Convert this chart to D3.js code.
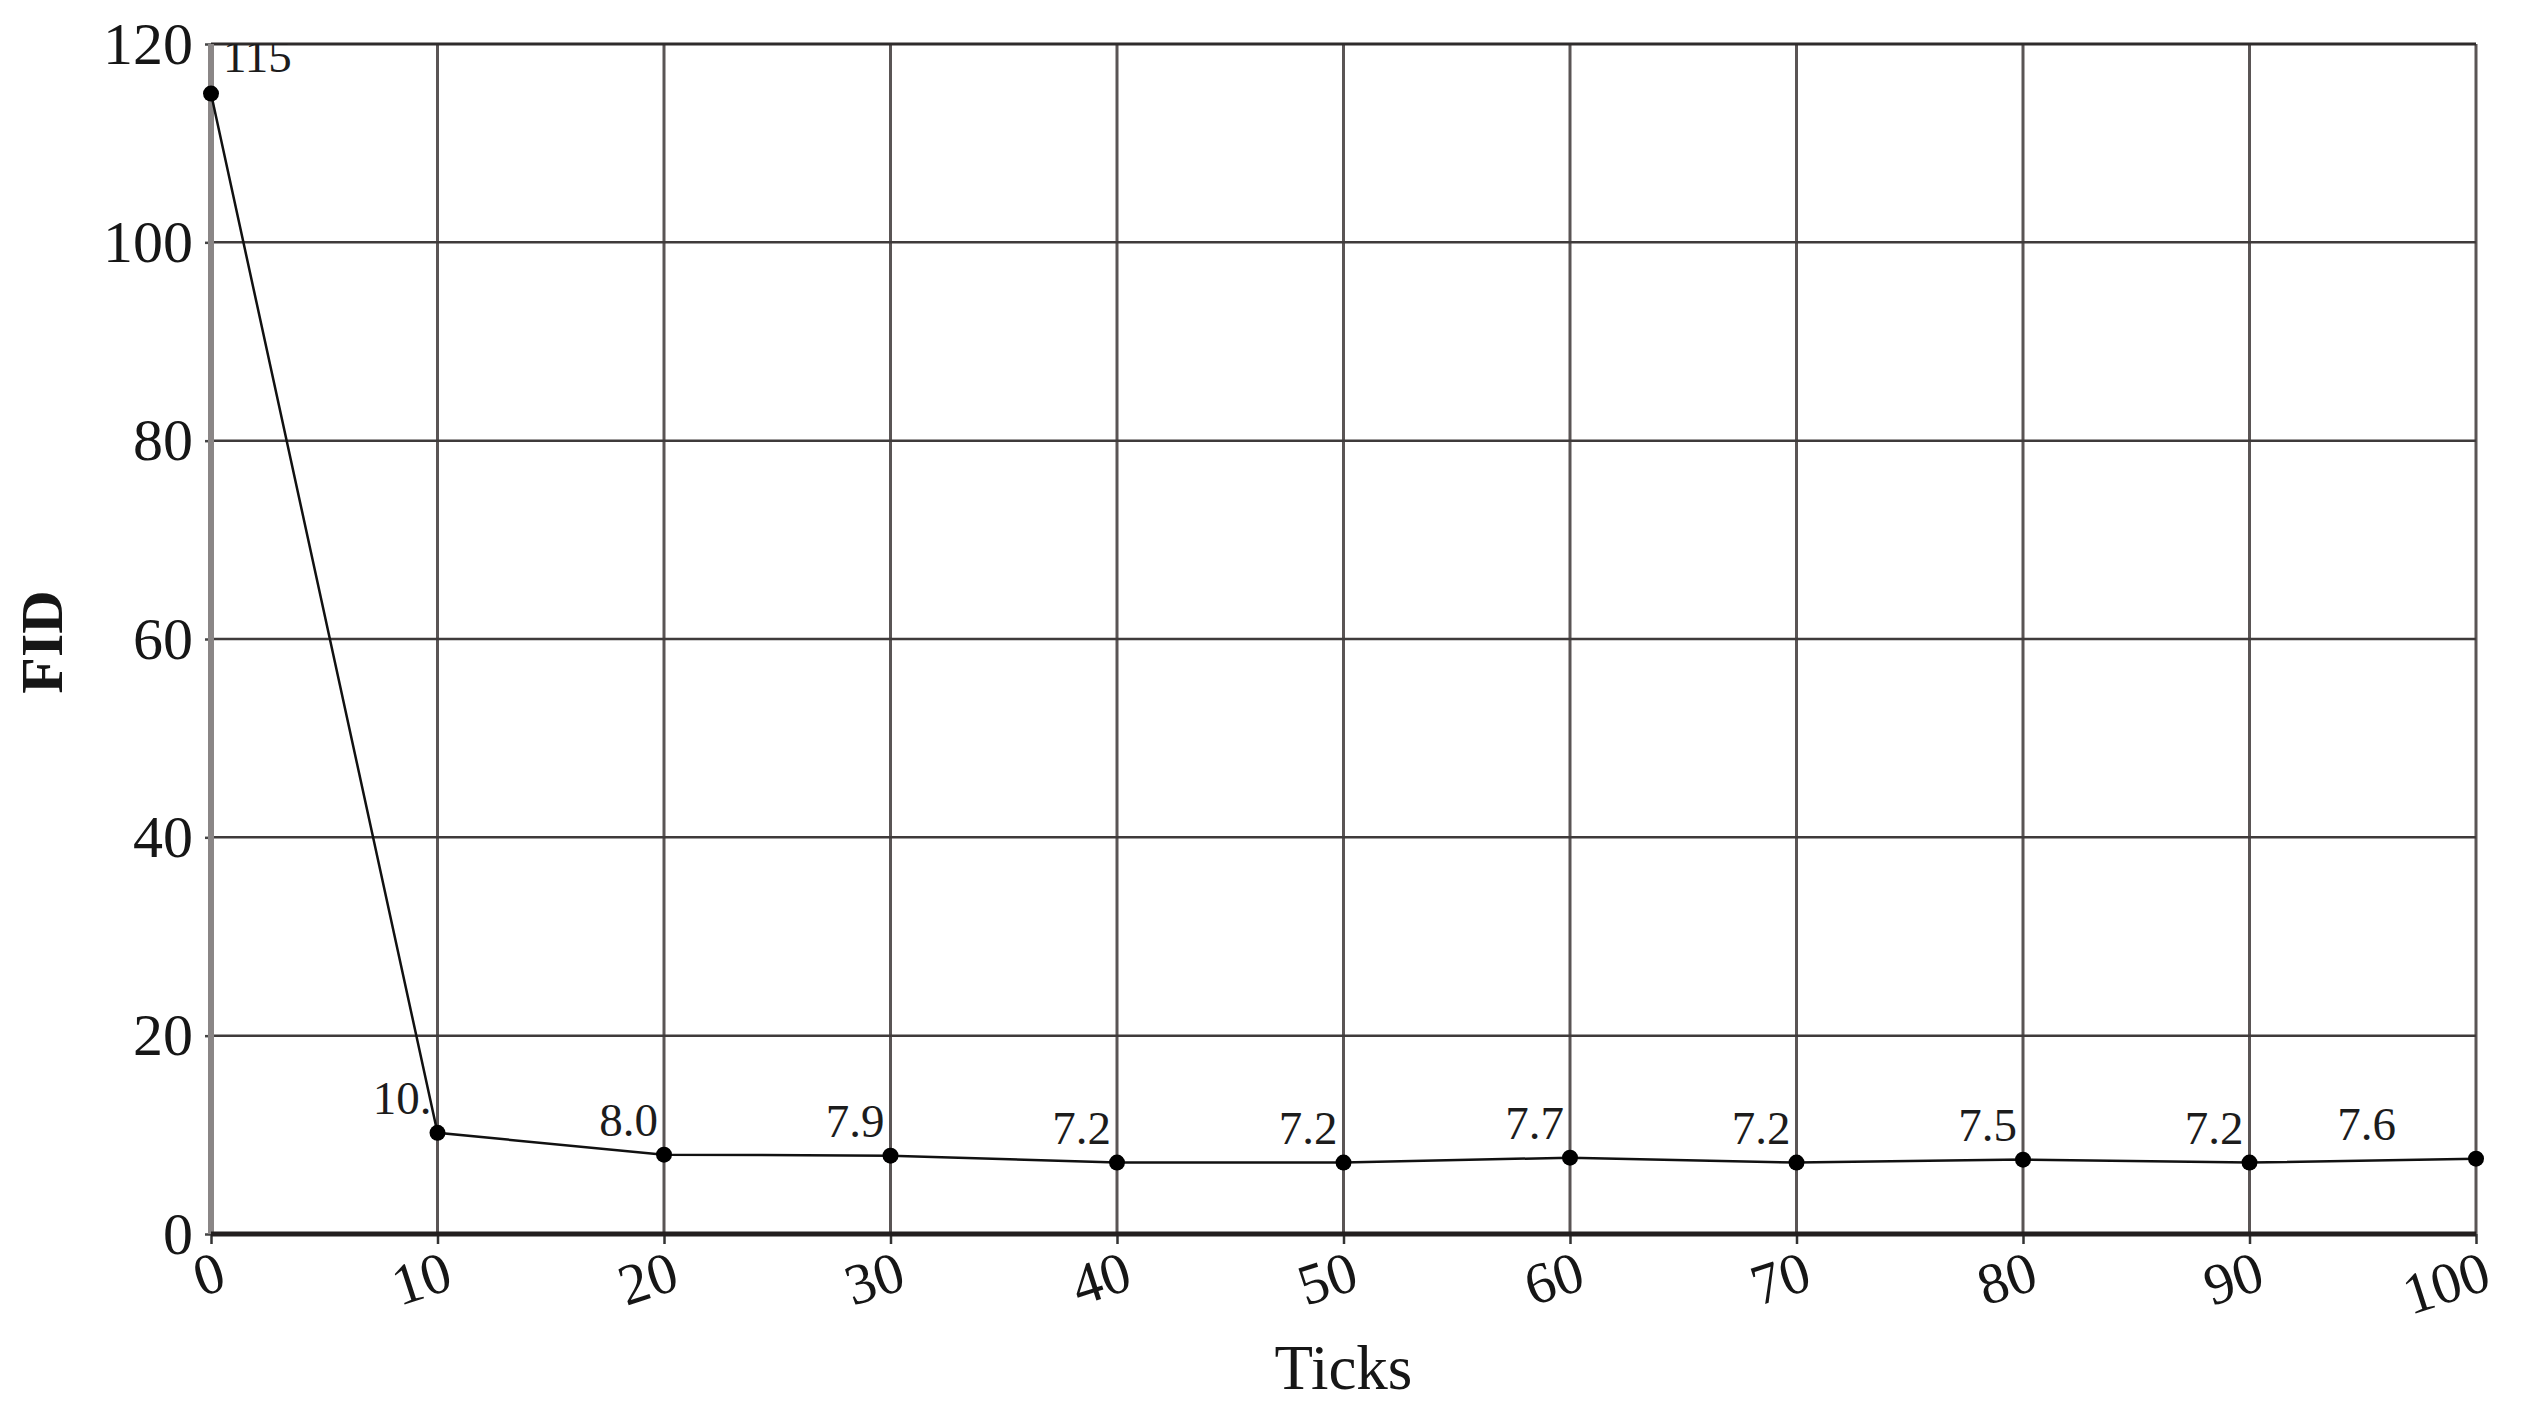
<!DOCTYPE html>
<html>
<head>
<meta charset="utf-8">
<script src="https://cdn.jsdelivr.net/npm/d3@7"></script>
<style>
  body { margin: 0; background: #fff; }
  svg { display: block; }
  .axis text { font-family: "Liberation Serif", "Times New Roman", serif; fill: #161616; }
</style>
</head>
<body>
<div id="chart"></div>
<script>
// FID over training ticks
var ticks = [0, 10, 20, 30, 40, 50, 60, 70, 80, 90, 100];
var fid = [115, 10.2, 8.0, 7.9, 7.2, 7.2, 7.7, 7.2, 7.5, 7.2, 7.6];
// labels as printed on the chart (partly cut off in the original)
var fidLabels = ["115", "10.", "8.0", "7.9", "7.2", "7.2", "7.7", "7.2", "7.5", "7.2", "7.6"];
var xTickValues = [0, 10, 20, 30, 40, 50, 60, 70, 80, 90, 100];
var yTickValues = [0, 20, 40, 60, 80, 100, 120];

var margin = { top: 44, left: 211, right: 45, bottom: 185 };
var fullW = 2521, fullH = 1419;
var width = fullW - margin.left - margin.right;
var height = fullH - margin.top - margin.bottom;
var serif = '"Liberation Serif", "Times New Roman", serif';

var svg = d3.select("#chart").append("svg")
    .attr("width", fullW)
    .attr("height", fullH);

var g = svg.append("g")
    .attr("transform", "translate(" + margin.left + "," + margin.top + ")");

var x = d3.scaleLinear().domain([0, 100]).range([0, width]);
var y = d3.scaleLinear().domain([0, 120]).range([height, 0]);

svg.append("defs").append("clipPath")
    .attr("id", "plotClip")
  .append("rect")
    .attr("width", width)
    .attr("height", height);

// Gridlines
g.append("g")
    .selectAll("line.vgrid")
    .data(xTickValues.filter(function(d) { return d > 0; }))
  .enter().append("line")
    .attr("class", "vgrid")
    .attr("y1", 0).attr("y2", height)
    .attr("x1", function(d) { return x(d); })
    .attr("x2", function(d) { return x(d); })
    .style("stroke", "#5a5555")
    .style("stroke-width", 3);

g.append("g")
    .selectAll("line.hgrid")
    .data(yTickValues.filter(function(d) { return d > 0; }))
  .enter().append("line")
    .attr("class", "hgrid")
    .attr("x1", 0).attr("x2", width)
    .attr("y1", function(d) { return y(d); })
    .attr("y2", function(d) { return y(d); })
    .style("stroke", function(d) { return d === 120 ? "#2e2b2b" : "#3f3b3b"; })
    .style("stroke-width", function(d) { return d === 120 ? 3 : 2.5; });

// Y axis
var yAxis = g.append("g")
    .attr("class", "axis")
    .call(d3.axisLeft(y).tickValues(yTickValues).tickSize(6).tickPadding(12).tickFormat(d3.format("d")));
yAxis.select(".domain").remove();
yAxis.selectAll(".tick line").style("stroke", "#444").style("stroke-width", 2.5);
yAxis.selectAll("text").style("font-size", "60px");

g.append("line")
    .attr("x1", 0).attr("x2", 0)
    .attr("y1", 0).attr("y2", height)
    .style("stroke", "#8a8686")
    .style("stroke-width", 6);

// X axis
var xAxis = g.append("g")
    .attr("class", "axis")
    .attr("transform", "translate(0," + height + ")")
    .call(d3.axisBottom(x).tickValues(xTickValues).tickSize(10).tickFormat(d3.format("d")));
xAxis.select(".domain").remove();
xAxis.selectAll(".tick line").style("stroke", "#333").style("stroke-width", 2.5);
xAxis.selectAll("text")
    .style("font-size", "58px")
    .style("text-anchor", "end")
    .attr("x", null).attr("y", null).attr("dy", null)
    .attr("transform", "translate(17,54) rotate(-18)");

g.append("line")
    .attr("x1", 0).attr("x2", width)
    .attr("y1", height).attr("y2", height)
    .style("stroke", "#231f1f")
    .style("stroke-width", 5);

// Series
var line = d3.line()
    .x(function(d, i) { return x(ticks[i]); })
    .y(function(d) { return y(d); });

g.append("path")
    .datum(fid)
    .attr("d", line)
    .style("fill", "none")
    .style("stroke", "#111")
    .style("stroke-width", 2.5);

g.selectAll(".dot")
    .data(fid)
  .enter().append("circle")
    .attr("class", "dot")
    .attr("cx", function(d, i) { return x(ticks[i]); })
    .attr("cy", function(d) { return y(d); })
    .attr("r", 8)
    .style("fill", "#000");

// Data labels
g.append("g")
    .attr("clip-path", "url(#plotClip)")
  .selectAll(".dlabel")
    .data(fid)
  .enter().append("text")
    .attr("class", "dlabel")
    .attr("x", function(d, i) {
      if (i === 0) return x(ticks[i]) + 12;
      if (i === fid.length - 1) return x(ticks[i]) - 80;
      return x(ticks[i]) - 6;
    })
    .attr("y", function(d, i) { return y(d) - (i === 0 ? 22 : 19); })
    .style("text-anchor", function(d, i) { return i === 0 ? "start" : "end"; })
    .style("font-family", serif)
    .style("font-size", "47px")
    .style("fill", "#1c1c1c")
    .text(function(d, i) { return fidLabels[i]; });

// Axis titles
svg.append("text")
    .attr("x", margin.left + width / 2)
    .attr("y", 1389)
    .style("text-anchor", "middle")
    .style("font-family", serif)
    .style("font-size", "63px")
    .style("fill", "#161616")
    .text("Ticks");

svg.append("text")
    .attr("transform", "translate(62," + (margin.top + height / 2 + 3) + ") rotate(-90)")
    .style("text-anchor", "middle")
    .style("font-family", serif)
    .style("font-weight", "bold")
    .style("font-size", "60px")
    .style("fill", "#161616")
    .text("FID");
</script>
</body>
</html>
